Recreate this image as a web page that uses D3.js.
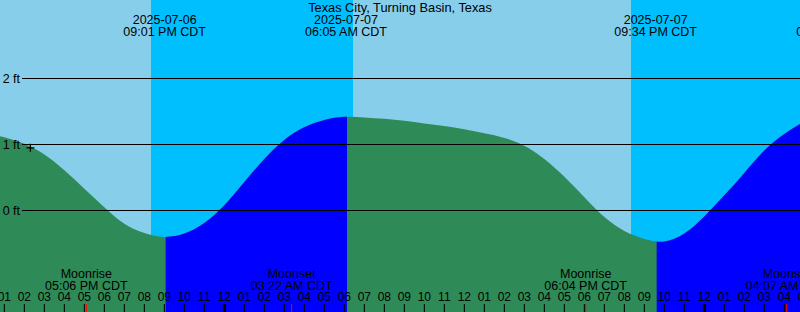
<!DOCTYPE html>
<html>
<head>
<meta charset="utf-8">
<script src="https://cdn.jsdelivr.net/npm/d3@7"></script>
<style>
  body { margin: 0; background: #fff; }
  svg { display: block; font-family: "Liberation Sans", Arial, sans-serif; }
</style>
</head>
<body>
<svg id="tide"></svg>
<script>
// Station
var title = "Texas City, Turning Basin, Texas";

// Tide height (ft), one value per hour starting 2025-07-06 12 PM CDT
var tideStart = Date.UTC(2025, 6, 6, 12, 0);
var tideFeet = [1.18, 1.11, 1.01, 0.85, 0.61, 0.33, 0.05, -0.20, -0.34, -0.40,
                -0.35, -0.19, 0.08, 0.43, 0.78, 1.07, 1.26, 1.37, 1.42, 1.41,
                1.39, 1.36, 1.32, 1.28, 1.23, 1.17, 1.10, 0.98, 0.78, 0.51,
                0.20, -0.10, -0.31, -0.43, -0.47, -0.35, -0.09, 0.23, 0.57, 0.91,
                1.16, 1.35];

// Sun events (sunset / sunrise) used for the labels at the top and the fill colour
var sunTimes = [Date.UTC(2025, 6, 6, 21, 1), Date.UTC(2025, 6, 7, 6, 5),
                Date.UTC(2025, 6, 7, 21, 34), Date.UTC(2025, 6, 8, 6, 39)];
var sunDates = ["2025-07-06", "2025-07-07", "2025-07-07", "2025-07-08"];
var sunLabels = ["09:01 PM CDT", "06:05 AM CDT", "09:34 PM CDT", "06:39 AM CDT"];

// Darker sky behind the chart
var skyBands = [[Date.UTC(2025, 6, 6, 20, 20), Date.UTC(2025, 6, 7, 6, 26)],
                [Date.UTC(2025, 6, 7, 20, 20), Date.UTC(2025, 6, 8, 6, 26)]];

// Moon events
var moonTimes = [Date.UTC(2025, 6, 6, 17, 6), Date.UTC(2025, 6, 7, 3, 22),
                 Date.UTC(2025, 6, 7, 18, 4), Date.UTC(2025, 6, 8, 4, 7)];
var moonNames = ["Moonrise", "Moonset", "Moonrise", "Moonset"];
var moonLabels = ["05:06 PM CDT", "03:22 AM CDT", "06:04 PM CDT", "04:07 AM CDT"];

// Height axis
var feetTicks = [0, 1, 2];

// Current time marker
var nowTime = Date.UTC(2025, 6, 6, 14, 18);
var nowFeet = 0.95;

var w = 800;
var h = 312;

var tide = tideFeet.map(function(v, i) {
    return { t: new Date(tideStart + i * 3600000), v: v };
});

var xScale = d3.scaleUtc()
    .domain([new Date(Date.UTC(2025, 6, 6, 12, 47)), new Date(Date.UTC(2025, 6, 8, 4, 47))])
    .range([0, w]);

var yScale = d3.scaleLinear()
    .domain([0, 2])
    .range([210.5, 78.5]);

var svg = d3.select("#tide")
    .attr("width", w)
    .attr("height", h);

// Sky
svg.append("rect")
    .attr("width", w)
    .attr("height", h)
    .attr("fill", "#87ceeb");

svg.selectAll(".sky")
    .data(skyBands)
    .enter()
    .append("rect")
    .attr("class", "sky")
    .attr("x", function(d) { return xScale(d[0]); })
    .attr("width", function(d) { return xScale(d[1]) - xScale(d[0]); })
    .attr("y", 0)
    .attr("height", h)
    .attr("fill", "#00bfff");

// Water: green in daylight, blue at night
var area = d3.area()
    .x(function(d) { return xScale(d.t); })
    .y0(h)
    .y1(function(d) { return yScale(d.v); })
    .curve(d3.curveNatural);

svg.append("path")
    .datum(tide)
    .attr("d", area)
    .attr("fill", "#2e8b57");

var nights = [[sunTimes[0], sunTimes[1]], [sunTimes[2], sunTimes[3]]];
var defs = svg.append("defs");
var clip = defs.append("clipPath").attr("id", "night");
clip.selectAll("rect")
    .data(nights)
    .enter()
    .append("rect")
    .attr("x", function(d) { return xScale(d[0]) + 1; })
    .attr("width", function(d) { return xScale(d[1]) - xScale(d[0]); })
    .attr("y", 0)
    .attr("height", h);

svg.append("path")
    .datum(tide)
    .attr("d", area)
    .attr("fill", "#0000ff")
    .attr("clip-path", "url(#night)");

// Height lines
svg.selectAll(".grid")
    .data(feetTicks)
    .enter()
    .append("line")
    .attr("class", "grid")
    .attr("x1", 22)
    .attr("x2", w)
    .attr("y1", function(d) { return yScale(d); })
    .attr("y2", function(d) { return yScale(d); })
    .attr("stroke", "#000")
    .attr("stroke-width", 1);

svg.selectAll(".ylab")
    .data(feetTicks)
    .enter()
    .append("text")
    .attr("class", "ylab")
    .attr("x", 20)
    .attr("y", function(d) { return yScale(d) + 4; })
    .attr("text-anchor", "end")
    .attr("font-size", "12.5px")
    .attr("fill", "#000")
    .text(function(d) { return d + " ft"; });

// Title
svg.append("text")
    .attr("x", w / 2)
    .attr("y", 12)
    .attr("text-anchor", "middle")
    .attr("font-size", "12.8px")
    .text(title);

// Sun labels
var sun = svg.selectAll(".sun")
    .data(sunTimes)
    .enter()
    .append("g")
    .attr("class", "sun")
    .attr("transform", function(d) { return "translate(" + xScale(d) + ",0)"; });

sun.append("text")
    .attr("y", 24)
    .attr("text-anchor", "middle")
    .attr("font-size", "12.5px")
    .text(function(d, i) { return sunDates[i]; });

sun.append("text")
    .attr("y", 36)
    .attr("text-anchor", "middle")
    .attr("font-size", "12.5px")
    .text(function(d, i) { return sunLabels[i]; });

// Moon labels
var moon = svg.selectAll(".moon")
    .data(moonTimes)
    .enter()
    .append("g")
    .attr("class", "moon")
    .attr("transform", function(d) { return "translate(" + xScale(d) + ",0)"; });

moon.append("text")
    .attr("y", 278)
    .attr("text-anchor", "middle")
    .attr("font-size", "12.5px")
    .text(function(d, i) { return moonNames[i]; });

moon.append("text")
    .attr("y", 289.5)
    .attr("text-anchor", "middle")
    .attr("font-size", "12.5px")
    .text(function(d, i) { return moonLabels[i]; });

// Hour axis along the bottom
var hours = d3.utcHour.range(new Date(Date.UTC(2025, 6, 6, 12)), new Date(Date.UTC(2025, 6, 8, 6)));

svg.selectAll(".hlab")
    .data(hours)
    .enter()
    .append("text")
    .attr("class", "hlab")
    .attr("x", function(d) { return xScale(d); })
    .attr("y", 301)
    .attr("text-anchor", "middle")
    .attr("font-size", "12px")
    .text(d3.utcFormat("%I"));

svg.selectAll(".htick")
    .data(hours)
    .enter()
    .append("line")
    .attr("class", "htick")
    .attr("x1", function(d) { return xScale(d); })
    .attr("x2", function(d) { return xScale(d); })
    .attr("y1", 304)
    .attr("y2", h)
    .attr("stroke", "#000")
    .attr("stroke-width", function(d) { return d.getUTCHours() == 0 ? 3 : 1; });

svg.selectAll(".mtick")
    .data(moonTimes)
    .enter()
    .append("line")
    .attr("class", "mtick")
    .attr("x1", function(d) { return xScale(d); })
    .attr("x2", function(d) { return xScale(d); })
    .attr("y1", 304)
    .attr("y2", h)
    .attr("stroke", "#ff0000")
    .attr("stroke-width", 1);

// Now marker
var nx = xScale(nowTime);
var ny = yScale(nowFeet);
svg.append("path")
    .attr("d", "M" + (nx - 4) + "," + ny + "H" + (nx + 4) + "M" + nx + "," + (ny - 4) + "V" + (ny + 4))
    .attr("stroke", "#000")
    .attr("stroke-width", 1.2)
    .attr("fill", "none");
</script>
</body>
</html>
